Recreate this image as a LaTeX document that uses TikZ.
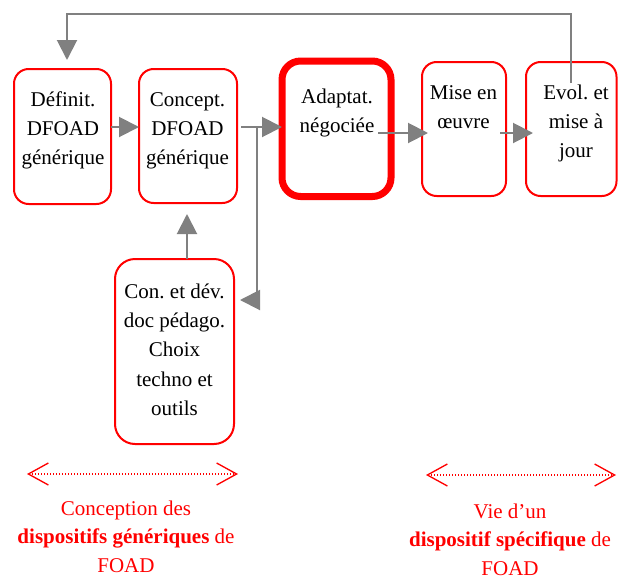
\documentclass[tikz,border=0pt]{standalone}
\usepackage{fontspec}
\setmainfont{Liberation Serif}
\usetikzlibrary{arrows.meta,calc,fit}
\definecolor{arrowgray}{RGB}{128,128,128}
\definecolor{boxred}{RGB}{255,0,0}
\frenchspacing
\begin{document}
\begin{tikzpicture}[x=0.75pt,y=-0.75pt,
  box/.style={draw=boxred, line width=1.5pt, rounded corners=11pt, inner sep=0pt, outer sep=0pt, rectangle},
  bigbox/.style={box, line width=5.25pt, rounded corners=14pt},
  txt/.style={anchor=base, inner sep=0pt, font=\fontsize{15.75}{22.1}\selectfont},
  captxt/.style={anchor=base, inner sep=0pt, text=boxred, font=\fontsize{15.75}{21.4}\selectfont},
  conn/.style={draw=arrowgray, line width=1.5pt, -{Triangle[length=15pt,width=15pt]}},
  span/.style={draw=boxred, line width=1pt, dash pattern=on 0.75pt off 1.5pt,
    {Straight Barb[length=15pt,width=16.5pt,line width=1pt]}-{Straight Barb[length=15pt,width=16.5pt,line width=1pt]}}
]
\useasboundingbox (0,0) rectangle (618,579);

% boxes
\node[box, fit={(14,69) (111,204)}] (b1) {};
\node[box, fit={(139,69) (237,203)}] (b2) {};
\node[bigbox, fit={(282,61) (391,196.5)}] (b3) {};
\node[box, fit={(422,62) (506,196)}] (b4) {};
\node[box, fit={(526,62) (616.5,196)}] (b5) {};
\node[box, rounded corners=15pt, fit={(115,259) (234,444)}] (b6) {};

% texts
\node[txt] (t1) at (63,106) {\begin{tabular}[t]{@{}c@{}}Définit.\\DFOAD\\générique\end{tabular}};
\node[txt] (t2) at (187.5,106) {\begin{tabular}[t]{@{}c@{}}Concept.\\DFOAD\\générique\end{tabular}};
\node[txt] (t3) at (337,103) {\begin{tabular}[t]{@{}c@{}}Adaptat.\\négociée\end{tabular}};
\node[txt] (t4) at (463.5,99) {\begin{tabular}[t]{@{}c@{}}Mise en\\œuvre\end{tabular}};
\node[txt] (t5) at (576,99) {\begin{tabular}[t]{@{}c@{}}Evol. et\\mise à\\jour\end{tabular}};
\node[txt] (t6) at (174.5,298) {\begin{tabular}[t]{@{}c@{}}Con. et dév.\\doc pédago.\\Choix\\techno et\\outils\end{tabular}};

% helper coordinates
\coordinate (r127) at (0,127);
\coordinate (r133) at (0,133);
\coordinate (top) at (0,14);
\coordinate (j) at (257,127);
\coordinate (c6) at (240,300);
\coordinate (t62) at (187,214);
\coordinate (fs) at ($(b5.north)+(0,21)$);
\coordinate (fe) at ($(b1.north)+(4.5,-9)$);

% connectors
\draw[conn] (b1.east |- r127) -- (b2.west |- r127);
\draw[conn] ($(b2.east |- r127)+(4,0)$) -- (b3.west |- r127);
\draw[conn] (j) |- (c6);
\draw[conn] (b6.north -| t62) -- (t62);
\draw[conn] ($(b3.east |- r133)+(-13,0)$) -- ($(b4.west |- r133)+(6,0)$);
\draw[conn] ($(b4.east |- r133)+(-6,0)$) -- ($(b5.west |- r133)+(7,0)$);
\draw[conn] (fs) -- (fs |- top) -| (fe);

% spans
\coordinate (s1a) at (27,474);
\coordinate (s1b) at (238,474);
\coordinate (s2a) at (426,475);
\coordinate (s2b) at (616,475);
\draw[span] (s1a) -- (s1b);
\draw[span] (s2a) -- (s2b);

\node[captxt] (c1) at (126,515) {\begin{tabular}[t]{@{}c@{}}Conception des\\\textbf{dispositifs génériques} de\\FOAD\end{tabular}};
\node[captxt] (c2) at (510,518) {\begin{tabular}[t]{@{}c@{}}Vie d’un\\\textbf{dispositif spécifique} de\\FOAD\end{tabular}};
\end{tikzpicture}
\end{document}
